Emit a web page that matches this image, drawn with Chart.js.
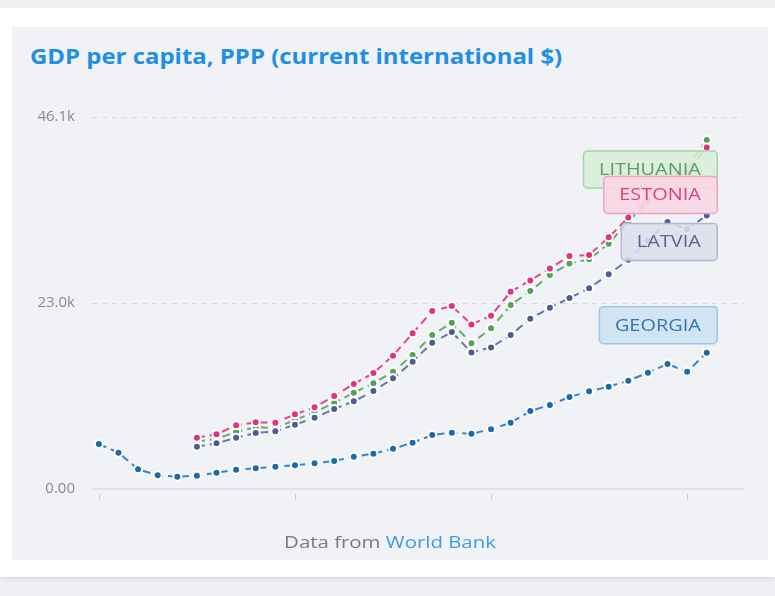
<!DOCTYPE html>
<html>
<head>
<meta charset="utf-8">
<script src="https://cdn.jsdelivr.net/npm/chart.js@4/dist/chart.umd.min.js"></script>
<style>
  html, body { margin:0; padding:0; }
  body { width:775px; height:596px; background:#eef0f4; overflow:hidden; position:relative; font-family:"Open Sans", sans-serif; }
  .card { position:absolute; left:0; top:8px; width:775px; height:569px; background:#fff; box-shadow:0 2px 4px rgba(0,0,0,0.10); }
  .panel { position:absolute; left:12px; top:19px; width:756px; height:533px; background:#f1f2f6; }
  .title { position:absolute; left:18px; top:15px; font-size:21px; font-weight:700; color:#1f8fe6; white-space:nowrap; transform:scaleX(1.14); transform-origin:0 0; }
  .foot { position:absolute; left:0; width:756px; top:503px; text-align:center; font-size:17px; color:#7a7a7a; transform:scaleX(1.2); transform-origin:50% 0; }
  .foot span { color:#3d9be9; }
  canvas { position:absolute; left:0; top:0; }
</style>
</head>
<body>
<div class="card">
  <div class="panel">
    <div class="title">GDP per capita, PPP (current international $)</div>
    <canvas id="c" width="756" height="533"></canvas>
    <div class="foot">Data from <span>World Bank</span></div>
  </div>
</div>
<script>
const georgiaYears = [1990,1991,1992,1993,1994,1995,1996,1997,1998,1999,2000,2001,2002,2003,2004,2005,2006,2007,2008,2009,2010,2011,2012,2013,2014,2015,2016,2017,2018,2019,2020,2021];
const balticYears = [1995,1996,1997,1998,1999,2000,2001,2002,2003,2004,2005,2006,2007,2008,2009,2010,2011,2012,2013,2014,2015,2016,2017,2018,2019,2020,2021];

const georgia = [5580,4500,2440,1700,1530,1650,2020,2390,2560,2760,2940,3180,3470,4000,4370,4990,5740,6690,6980,6850,7400,8210,9660,10410,11400,12100,12680,13420,14410,15490,14530,16890];
const estonia = [6360,6780,7890,8260,8210,9250,10120,11520,13010,14370,16520,19290,22050,22670,20400,21470,24440,25850,27340,28870,28990,31190,33660,35900,38300,39300,42330];
const lithuania = [5860,6220,7060,7680,7560,8550,9540,10650,11930,13100,14530,16600,19080,20600,18050,19910,22800,24530,26510,27960,28460,30400,33200,35500,38300,39800,43240];
const latvia = [5240,5660,6360,6940,7150,7970,8830,9910,10870,12140,13710,15770,18130,19450,16930,17550,19080,21100,22460,23660,24870,26600,28400,30800,33100,32200,33900];

const seriesNames = ["LITHUANIA","ESTONIA","LATVIA","GEORGIA"];
const yTickValues = [0, 23050, 46100];
const yTickLabels = ["0.00", "23.0k", "46.1k"];
const xTickYears = [1990, 2000, 2010, 2020];

function pts(years, vals){ return years.map((y,i)=>({x:y, y:vals[i]})); }

function ds(label, years, vals, lineColor, pointColor, order, box){
  return {
    label, data: pts(years, vals), order,
    borderColor: lineColor, borderWidth: 2, borderDash: [8,5],
    pointBackgroundColor: pointColor, pointBorderColor: '#ffffff',
    pointBorderWidth: 2, pointRadius: 4, pointHoverRadius: 4,
    fill: false, tension: 0, box
  };
}

const datasets = [
  ds(seriesNames[3], georgiaYears, georgia, 'rgba(40,120,195,0.9)', '#1c6aae', 4,
     {fill:'rgba(205,226,244,0.9)', stroke:'#9fc6e6', text:'#3672ae', dy:-28}),
  ds(seriesNames[0], balticYears, lithuania, 'rgba(85,166,85,0.9)', '#52a352', 3,
     {fill:'rgba(216,238,216,0.88)', stroke:'#a6d3a6', text:'#5f9c6a', dy:29}),
  ds(seriesNames[2], balticYears, latvia, 'rgba(80,96,150,0.85)', '#4b5d95', 2,
     {fill:'rgba(220,222,236,0.88)', stroke:'#b3b7d1', text:'#5a6296', dy:26}),
  ds(seriesNames[1], balticYears, estonia, 'rgba(230,50,122,0.9)', '#e6317a', 1,
     {fill:'rgba(248,214,228,0.9)', stroke:'#f0a2c2', text:'#e0407c', dy:47}),
];

const gridPlugin = {
  id:'gridPlugin',
  beforeDatasetsDraw(chart){
    const {ctx, chartArea:a, scales:{x, y}} = chart;
    ctx.save();
    yTickValues.forEach(v=>{
      const py = Math.round(y.getPixelForValue(v));
      ctx.beginPath();
      if (v === 0) { ctx.setLineDash([]); ctx.strokeStyle='#e1e3e9'; ctx.lineWidth=2; }
      else { ctx.setLineDash([5,5]); ctx.strokeStyle='#d9dadd'; ctx.lineWidth=1; }
      const off = v===0 ? 0 : 0.5;
      ctx.moveTo(a.left, py + off); ctx.lineTo(a.right, py + off);
      ctx.stroke();
    });
    ctx.setLineDash([]);
    ctx.strokeStyle='#c9cacf'; ctx.lineWidth=1;
    xTickYears.forEach(yr=>{
      const px = Math.round(x.getPixelForValue(yr)) + 0.5;
      ctx.beginPath(); ctx.moveTo(px, a.bottom+5); ctx.lineTo(px, a.bottom+11); ctx.stroke();
    });
    ctx.restore();
  }
};

const TEXT_STRETCH = 1.17;
const labelPlugin = {
  id:'labelPlugin',
  afterDatasetsDraw(chart){
    const ctx = chart.ctx;
    const order = [1,3,2,0];
    ctx.save();
    ctx.font = '17px "Open Sans"';
    ctx.textAlign='center'; ctx.textBaseline='middle';
    order.forEach(i=>{
      const d = chart.data.datasets[i];
      const meta = chart.getDatasetMeta(i);
      const last = meta.data[meta.data.length-1];
      const b = d.box;
      const w = ctx.measureText(d.label).width * TEXT_STRETCH + 32;
      const h = 37;
      const right = last.x + 10;
      const cy = last.y + b.dy;
      const left = right - w, top = cy - h/2;
      ctx.beginPath();
      ctx.roundRect(left+0.5, top+0.5, w, h, 4);
      ctx.fillStyle = b.fill; ctx.fill();
      ctx.strokeStyle = b.stroke; ctx.lineWidth = 1.5; ctx.stroke();
      ctx.fillStyle = b.text;
      ctx.save();
      ctx.translate(left + w/2, cy + 1);
      ctx.scale(TEXT_STRETCH, 1);
      ctx.fillText(d.label, 0, 0);
      ctx.restore();
    });
    ctx.restore();
  }
};

new Chart(document.getElementById('c'), {
  type:'line',
  data:{ datasets },
  options:{
    responsive:false, animation:false, devicePixelRatio:1,
    layout:{ padding:{ left:0, right:23, top:90, bottom:0 } },
    plugins:{ legend:{display:false}, tooltip:{enabled:false} },
    scales:{
      x:{ type:'linear', min:1989.65, max:2022.95,
          ticks:{display:false}, grid:{display:false}, border:{display:false},
          afterFit(s){ s.height = 71; } },
      y:{ min:0, max:46100,
          afterBuildTicks(s){ s.ticks = yTickValues.map(v=>({value:v})); },
          ticks:{ padding:17, color:'#8b8b8b', font:{family:'"Open Sans"', size:15},
                  callback(v){ const i = yTickValues.indexOf(v); return i>=0 ? yTickLabels[i] : ''; } },
          grid:{display:false, drawTicks:false}, border:{display:false},
          afterFit(s){ s.width = 80; } }
    }
  },
  plugins:[gridPlugin, labelPlugin]
});
</script>
</body>
</html>
